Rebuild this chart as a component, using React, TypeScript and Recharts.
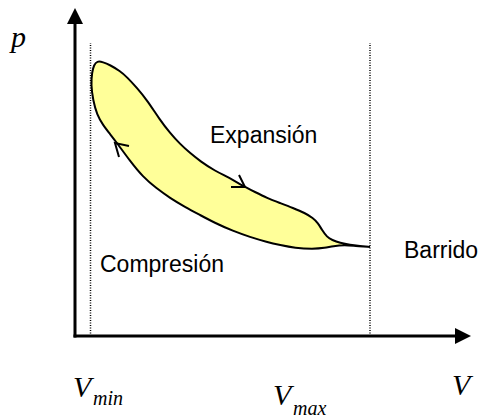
import React from "react";
import { ComposedChart, XAxis, YAxis, Scatter, ReferenceLine } from "recharts";

// Loop (closed cycle), plot units: v from the V axis origin, p from the V axis upward
const loopV = [295, 280, 270, 258, 250, 238, 220, 205, 192, 175, 158, 140, 125, 110, 95, 81, 68, 55, 42, 35, 28, 22, 18, 16, 17, 19, 22,
  28, 35, 45, 52, 62, 72, 85, 95, 105, 115, 125, 140, 155, 168, 180, 192, 205, 218, 230, 238, 243, 247, 252, 257, 265, 275, 285, 295];
const loopP = [89, 90, 91, 90, 88, 87, 88, 91, 94, 99, 105, 113, 121, 129, 138, 148, 159, 175, 193, 202, 211, 221, 236, 251, 264, 271, 275,
  274, 271, 265, 259, 248, 236, 216, 203, 192, 183, 175, 165, 158, 150, 144, 138, 133, 128, 123, 118, 113, 106, 99, 96, 93, 91, 90, 89];

const vMin = 15.5;
const vMax = 295;
const guideTop = 293;
const vEnd = 396;
const pEnd = 328;

const compressionArrow = [{ v: 40, p: 193 }];
const expansionArrow = [{ v: 170, p: 149 }];
const xTip = [{ v: vEnd, p: 0 }];
const yTip = [{ v: 0, p: pEnd }];

const loopData = loopV.map((v, i) => ({ v, p: loopP[i] }));

const SERIF = "'Liberation Serif', 'Times New Roman', serif";
const SANS = "'Liberation Sans', Arial, sans-serif";

const Hidden = () => <g />;

const CompressionShape = (props: any) => {
  const { cx, cy } = props;
  return (
    <path d={`M${cx + 14},${cy + 3} L${cx},${cy} L${cx + 4},${cy + 14}`} fill="none" stroke="#000" strokeWidth={2} />
  );
};
const ExpansionShape = (props: any) => {
  const { cx, cy } = props;
  return (
    <path d={`M${cx - 14},${cy} L${cx},${cy} L${cx - 6},${cy - 12}`} fill="none" stroke="#000" strokeWidth={2} />
  );
};
const XTipShape = (props: any) => {
  const { cx, cy } = props;
  return <path d={`M${cx},${cy} L${cx - 16},${cy - 8} L${cx - 16},${cy + 8} Z`} fill="#000" />;
};
const YTipShape = (props: any) => {
  const { cx, cy } = props;
  return <path d={`M${cx},${cy} L${cx - 8},${cy + 16} L${cx + 8},${cy + 16} Z`} fill="#000" />;
};

export default function App() {
  return (
    <div style={{ position: "absolute", left: 0, top: 0, width: 483, height: 418, background: "#fff" }}>
      <ComposedChart width={483} height={418} margin={{ top: 8, right: 12, bottom: 82, left: 75 }}>
        <XAxis type="number" dataKey="v" domain={[0, vEnd]} hide />
        <YAxis type="number" dataKey="p" domain={[0, pEnd]} hide />
        <ReferenceLine
          segment={[{ x: vMin, y: 0 }, { x: vMin, y: guideTop }]}
          stroke="#000"
          strokeWidth={1.5}
          strokeDasharray="1 1.5"
          ifOverflow="visible"
        />
        <ReferenceLine
          segment={[{ x: vMax, y: 0 }, { x: vMax, y: guideTop }]}
          stroke="#000"
          strokeWidth={1.5}
          strokeDasharray="1 1.5"
          ifOverflow="visible"
        />
        <ReferenceLine
          segment={[{ x: 0, y: 0 }, { x: vEnd - 10, y: 0 }]}
          stroke="#000"
          strokeWidth={3}
          strokeLinecap="square"
          ifOverflow="visible"
        />
        <ReferenceLine
          segment={[{ x: 0, y: 0 }, { x: 0, y: pEnd - 10 }]}
          stroke="#000"
          strokeWidth={3}
          strokeLinecap="square"
          ifOverflow="visible"
        />
        <Scatter
          data={loopData}
          isAnimationActive={false}
          shape={Hidden}
          line={{ stroke: "#000", strokeWidth: 2, fill: "#ffff99" }}
          lineType="joint"
          lineJointType="basis"
        />
        <Scatter data={compressionArrow} isAnimationActive={false} shape={CompressionShape} />
        <Scatter data={expansionArrow} isAnimationActive={false} shape={ExpansionShape} />
        <Scatter data={xTip} isAnimationActive={false} shape={XTipShape} />
        <Scatter data={yTip} isAnimationActive={false} shape={YTipShape} />
        <text x={11} y={47} fontFamily={SERIF} fontStyle="italic" fontSize={30} fill="#000">p</text>
        <text x={210} y={143} fontFamily={SANS} fontSize={23} fill="#000">Expansión</text>
        <text x={100} y={272} fontFamily={SANS} fontSize={23} fill="#000">Compresión</text>
        <text x={404} y={258} fontFamily={SANS} fontSize={23} fill="#000">Barrido</text>
        <text x={73} y={397} fontFamily={SERIF} fontStyle="italic" fontSize={30} fill="#000">V</text>
        <text x={93} y={405} fontFamily={SERIF} fontStyle="italic" fontSize={20} fill="#000">min</text>
        <text x={273} y={405} fontFamily={SERIF} fontStyle="italic" fontSize={30} fill="#000">V</text>
        <text x={293} y={415} fontFamily={SERIF} fontStyle="italic" fontSize={20} fill="#000">max</text>
        <text x={452} y={395} fontFamily={SERIF} fontStyle="italic" fontSize={30} fill="#000">V</text>
      </ComposedChart>
    </div>
  );
}
